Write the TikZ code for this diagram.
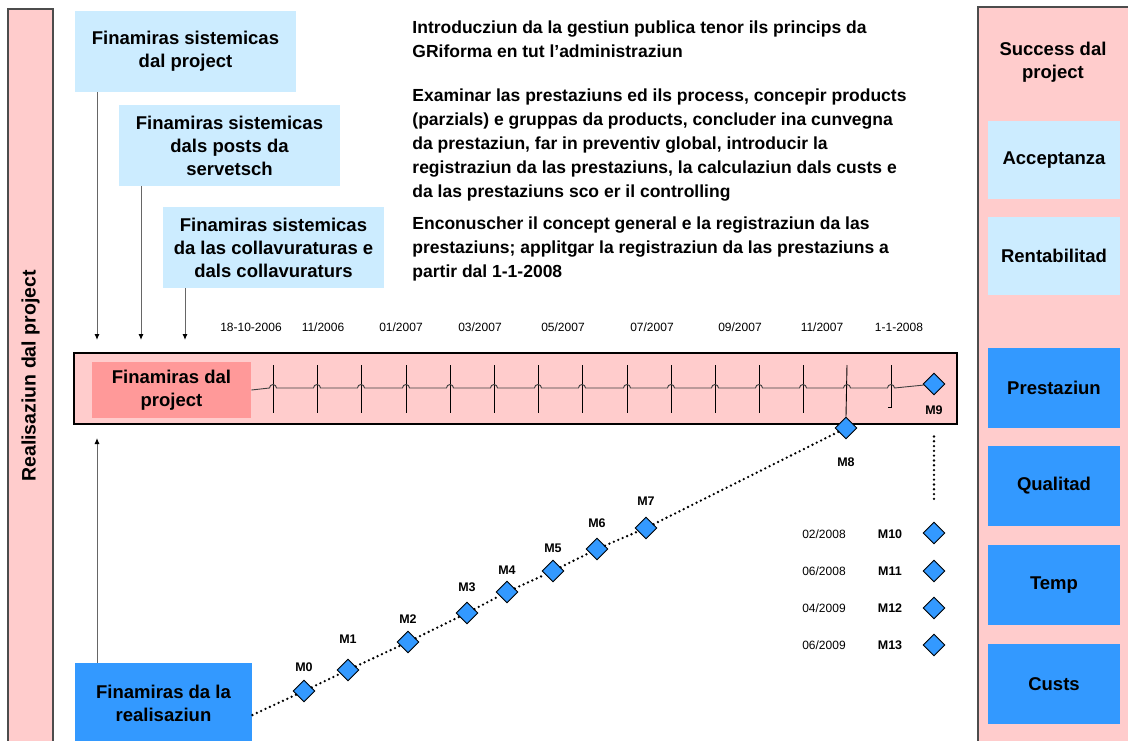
\documentclass[tikz,border=0pt]{standalone}
\usepackage{fontspec}
\setmainfont{Liberation Sans}
\usetikzlibrary{shapes.geometric,arrows.meta}
\definecolor{rosa}{HTML}{FFCCCC}
\definecolor{celest}{HTML}{CCECFF}
\definecolor{blau}{HTML}{3399FF}
\definecolor{salmun}{HTML}{FF9999}

\begin{document}
\begin{tikzpicture}[x=1pt, y=-1pt, line width=0.9pt,
    every node/.style={font=\bfseries\fontsize{18.5}{23}\selectfont, inner sep=0pt, align=center},
    sysbox/.style={fill=celest, minimum width=221, minimum height=81},
    succbox/.style={fill=celest, minimum width=132, minimum height=78},
    critbox/.style={fill=blau, minimum width=132, minimum height=80},
    milestone/.style={diamond, draw, fill=blau, minimum width=22, minimum height=22, aspect=1},
    mlabel/.style={font=\bfseries\fontsize{12.5}{14}\selectfont},
    datelabel/.style={font=\fontsize{12}{14}\selectfont},
    ptext/.style={anchor=north west, align=left, font=\bfseries\fontsize{17.5}{24}\selectfont},
    arr/.style={draw=gray!80!black, line width=1pt, -{Latex[length=6pt,width=5pt,color=black]}},
    dotline/.style={line width=2.6pt, dash pattern=on 0pt off 4.8pt, line cap=round}]
    \path[fill=white, use as bounding box] (0,0) rectangle (1128,740);

    % Balcuns laterals
    \node[draw=gray!60!black, line width=1.3pt, fill=rosa, rotate=90, minimum width=734, minimum height=45,
          font=\bfseries\fontsize{19.5}{23}\selectfont] (realbar) at (30.5,376) {Realisaziun dal project};
    \node[draw=gray!60!black, line width=1.3pt, fill=rosa, minimum width=160, minimum height=740] (succpanel) at (1058,377) {};

    % Success dal project
    \node (succ) at (1053,62) {Success dal\\project};
    \node[succbox] (accept) at (1054,160) {Acceptanza};
    \node[succbox] (rent) at (1054,256) {Rentabilitad};
    \node[critbox] (prest) at (1054,388) {Prestaziun};
    \node[critbox] (qual) at (1054,486) {Qualitad};
    \node[critbox] (temp) at (1054,585) {Temp};
    \node[critbox] (custs) at (1054,684) {Custs};

    % Finamiras sistemicas
    \node[sysbox] (fs1) at (185.5,51.5) {Finamiras sistemicas\\dal project};
    \node[sysbox] (fs2) at (229.5,145.5) {Finamiras sistemicas\\dals posts da\\servetsch};
    \node[sysbox] (fs3) at (273.5,247.5) {Finamiras sistemicas\\da las collavuraturas e\\dals collavuraturs};

    % Texts
    \node[ptext] (intro) at (412,20) {Introducziun da la gestiun publica tenor ils princips da\\GRiforma en tut l'administraziun};
    \node[ptext] (exam) at (412,88) {Examinar las prestaziuns ed ils process, concepir products\\(parzials) e gruppas da products, concluder ina cunvegna\\da prestaziun, far in preventiv global, introducir la\\registraziun da las prestaziuns, la calculaziun dals custs e\\da las prestaziuns sco er il controlling};
    \node[ptext] (enc) at (412,216) {Enconuscher il concept general e la registraziun da las\\prestaziuns; applitgar la registraziun da las prestaziuns a\\partir dal 1-1-2008};

    % Trav dal temp
    \node[draw, line width=1.2pt, fill=rosa, minimum width=883, minimum height=71] (tbar) at (515.5,388.5) {};
    \node[fill=salmun, minimum width=159, minimum height=56] (fdp) at (171.5,390) {Finamiras dal\\project};
    \node[fill=blau, minimum width=177, minimum height=80] (freal) at (163.5,703) {Finamiras da la\\realisaziun};

    % Datas
    \node[datelabel] (d0) at (251,327) {18-10-2006};
    \node[datelabel] (d1) at (323,327) {11/2006};
    \node[datelabel] (d2) at (401,327) {01/2007};
    \node[datelabel] (d3) at (480,327) {03/2007};
    \node[datelabel] (d4) at (563,327) {05/2007};
    \node[datelabel] (d5) at (652,327) {07/2007};
    \node[datelabel] (d6) at (740,327) {09/2007};
    \node[datelabel] (d7) at (822,327) {11/2007};
    \node[datelabel] (d8) at (899,327) {1-1-2008};

    % Milestones
    \node[milestone] (M0) at (304,691) {};
    \node[milestone] (M1) at (348,670) {};
    \node[milestone] (M2) at (408,642) {};
    \node[milestone] (M3) at (467,613) {};
    \node[milestone] (M4) at (507,592) {};
    \node[milestone] (M5) at (553,571) {};
    \node[milestone] (M6) at (597,549) {};
    \node[milestone] (M7) at (646,528) {};
    \node[milestone] (M8) at (846,428) {};
    \node[milestone] (M9) at (934,384) {};
    \node[milestone] (M10) at (934,533) {};
    \node[milestone] (M11) at (934,571) {};
    \node[milestone] (M12) at (934,608) {};
    \node[milestone] (M13) at (934,645) {};

    \node[mlabel] (lM0) at (304,667) {M0};
    \node[mlabel] (lM1) at (348,639) {M1};
    \node[mlabel] (lM2) at (408,619) {M2};
    \node[mlabel] (lM3) at (467,587) {M3};
    \node[mlabel] (lM4) at (507,570) {M4};
    \node[mlabel] (lM5) at (553,548) {M5};
    \node[mlabel] (lM6) at (597,523) {M6};
    \node[mlabel] (lM7) at (646,501) {M7};
    \node[mlabel] (lM8) at (846,462) {M8};
    \node[mlabel] (lM9) at (934,410) {M9};
    \node[mlabel] (lM10) at (890,534) {M10};
    \node[mlabel] (lM11) at (890,571) {M11};
    \node[mlabel] (lM12) at (890,608) {M12};
    \node[mlabel] (lM13) at (890,645) {M13};
    \node[datelabel] (dM10) at (824,534) {02/2008};
    \node[datelabel] (dM11) at (824,571) {06/2008};
    \node[datelabel] (dM12) at (824,608) {04/2009};
    \node[datelabel] (dM13) at (824,645) {06/2009};

    % Lingia dal temp cun ils tics
    \foreach \t in {273,317,361,406,450,494,538,582,627,671,715,759,803}
        \draw (\t,365) -- (\t,413);
    \draw (847,365) -- (M8.north);
    \draw (891,365) -- (891,407) -- (888,407);
    \draw[draw=black!75] (fdp.east) \foreach \t in {273,317,361,406,450,494,538,582,627,671,715,759,803,847,891}
        {-- (\t-3.5,388) arc[start angle=180, end angle=0, radius=3.5pt]} -- (M9);

    % Frizzas
    \coordinate (t1) at (97,340);
    \coordinate (t2) at (141,340);
    \coordinate (t3) at (185,340);
    \coordinate (t0) at (97,438);
    \draw[arr] (fs1.south -| t1) -- (t1);
    \draw[arr] (fs2.south -| t2) -- (t2);
    \draw[arr] (fs3.south -| t3) -- (t3);
    \draw[arr] (freal.north -| t0) -- (t0);

    % Lingias puntegiadas
    \draw[dotline] ([yshift=-12pt]freal.east) -- (M0) -- (M1) -- (M2) -- (M3) -- (M4) -- (M5) -- (M6) -- (M7) -- (M8);
    \draw[dotline] ([yshift=-41pt]M9.south) -- ([yshift=19pt]M10.north);
\end{tikzpicture}
\end{document}
